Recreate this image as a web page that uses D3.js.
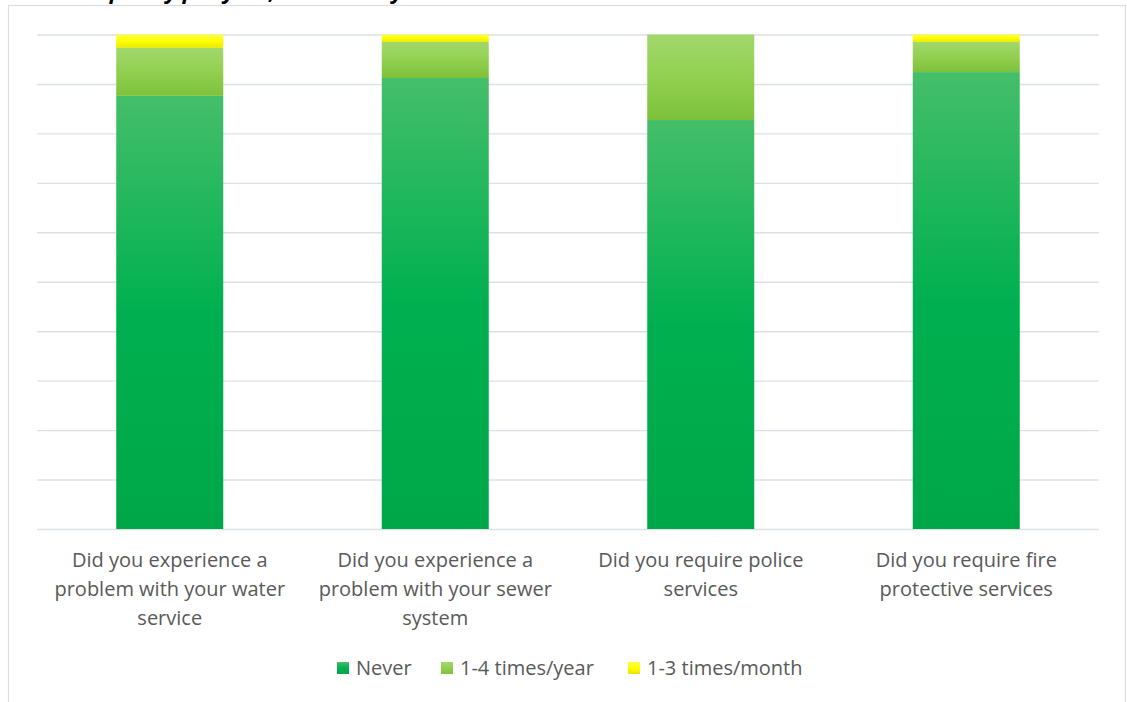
<!DOCTYPE html>
<html>
<head>
<meta charset="utf-8">
<script src="https://cdn.jsdelivr.net/npm/d3@7"></script>
<style>
  html, body { margin: 0; padding: 0; background: #fff; }
  svg { display: block; }
</style>
</head>
<body>
<svg id="chart" width="1127" height="702"></svg>
<script>
// ---- data ----
const categories = [
  "Did you experience a\nproblem with your water\nservice",
  "Did you experience a\nproblem with your sewer\nsystem",
  "Did you require police\nservices",
  "Did you require fire\nprotective services"
];
const seriesNames = ["Never", "1-4 times/year", "1-3 times/month"];
const never       = [0.876, 0.912, 0.827, 0.924];
const perYear     = [0.097, 0.073, 0.173, 0.061];
const perMonth    = [0.027, 0.015, 0.000, 0.015];
const yTicks = [0, 0.1, 0.2, 0.3, 0.4, 0.5, 0.6, 0.7, 0.8, 0.9, 1.0];
const titleText = "Frequency per year, in the last year";

// ---- styles ----
const gradStops = [
  ["#45BE6A", "#00B050", "#00A748"],
  ["#A2D86C", "#92D050", "#7DC13A"],
  ["#FFFF45", "#FFFF00", "#E8E800"]
];
const font = "'Open Sans', 'Noto Sans', sans-serif";
const textColor = "#595959";

const svg = d3.select("#chart");
const plot = { left: 37, right: 1099, top: 34.5, bottom: 529 };

// defs: gradients
const defs = svg.append("defs");
gradStops.forEach((stops, i) => {
  const g = defs.append("linearGradient")
    .attr("id", "grad" + i)
    .attr("x1", 0).attr("y1", 0).attr("x2", 0).attr("y2", 1);
  g.append("stop").attr("offset", "0%").attr("stop-color", stops[0]);
  g.append("stop").attr("offset", "50%").attr("stop-color", stops[1]);
  g.append("stop").attr("offset", "100%").attr("stop-color", stops[2]);
});

// title (mostly clipped off the top, as in the reference)
svg.append("text")
  .attr("x", 70).attr("y", -1)
  .attr("font-family", font)
  .attr("font-size", 22)
  .attr("font-weight", "bold")
  .attr("font-style", "italic")
  .attr("fill", "#000")
  .text(titleText);

// frame
svg.append("rect")
  .attr("x", 8.5).attr("y", 5.5)
  .attr("width", 1117).attr("height", 710)
  .attr("fill", "none")
  .attr("stroke", "#DADDE2")
  .attr("stroke-width", 1.2);

const x = d3.scaleBand()
  .domain(categories)
  .range([plot.left, plot.right])
  .paddingInner(0.597)
  .paddingOuter(0.2985);

const y = d3.scaleLinear().domain([0, 1]).range([plot.bottom, plot.top]);

// gridlines via axis
const grid = svg.append("g")
  .attr("transform", `translate(${plot.left},0)`)
  .call(d3.axisLeft(y).tickValues(yTicks).tickSize(-(plot.right - plot.left)).tickFormat(""));
grid.select(".domain").remove();
grid.selectAll(".tick line")
  .attr("stroke", "#DDE1E6")
  .attr("stroke-width", 1.4);

// stack
const rows = categories.map((c, i) => ({
  cat: c, s0: never[i], s1: perYear[i], s2: perMonth[i]
}));
const stacked = d3.stack().keys(["s0", "s1", "s2"])(rows);

svg.append("g").selectAll("g")
  .data(stacked)
  .join("g")
  .attr("fill", (d, i) => `url(#grad${i})`)
  .selectAll("rect")
  .data(d => d)
  .join("rect")
  .attr("x", d => x(d.data.cat))
  .attr("width", x.bandwidth())
  .attr("y", d => y(d[1]))
  .attr("height", d => Math.max(0, y(d[0]) - y(d[1])));

// category labels via axis
const xAxis = svg.append("g")
  .attr("transform", `translate(0,${plot.bottom})`)
  .call(d3.axisBottom(x).tickSize(0).tickFormat(""));
xAxis.select(".domain").remove();
xAxis.selectAll(".tick").each(function(d) {
  const lines = d.split("\n");
  const t = d3.select(this).append("text")
    .attr("text-anchor", "middle")
    .attr("font-family", font)
    .attr("font-size", 20)
    .attr("fill", textColor);
  lines.forEach((ln, k) => {
    t.append("tspan").attr("x", 0).attr("y", 37.5 + k * 29).text(ln);
  });
});

// legend
const legendX = [337, 441, 628];
const legend = svg.append("g");
seriesNames.forEach((name, i) => {
  const g = legend.append("g").attr("transform", `translate(${legendX[i]},662)`);
  g.append("rect").attr("width", 12).attr("height", 12).attr("fill", `url(#grad${i})`);
  g.append("text")
    .attr("x", 19).attr("y", 13)
    .attr("font-family", font)
    .attr("font-size", 20)
    .attr("fill", textColor)
    .text(name);
});
</script>
</body>
</html>
